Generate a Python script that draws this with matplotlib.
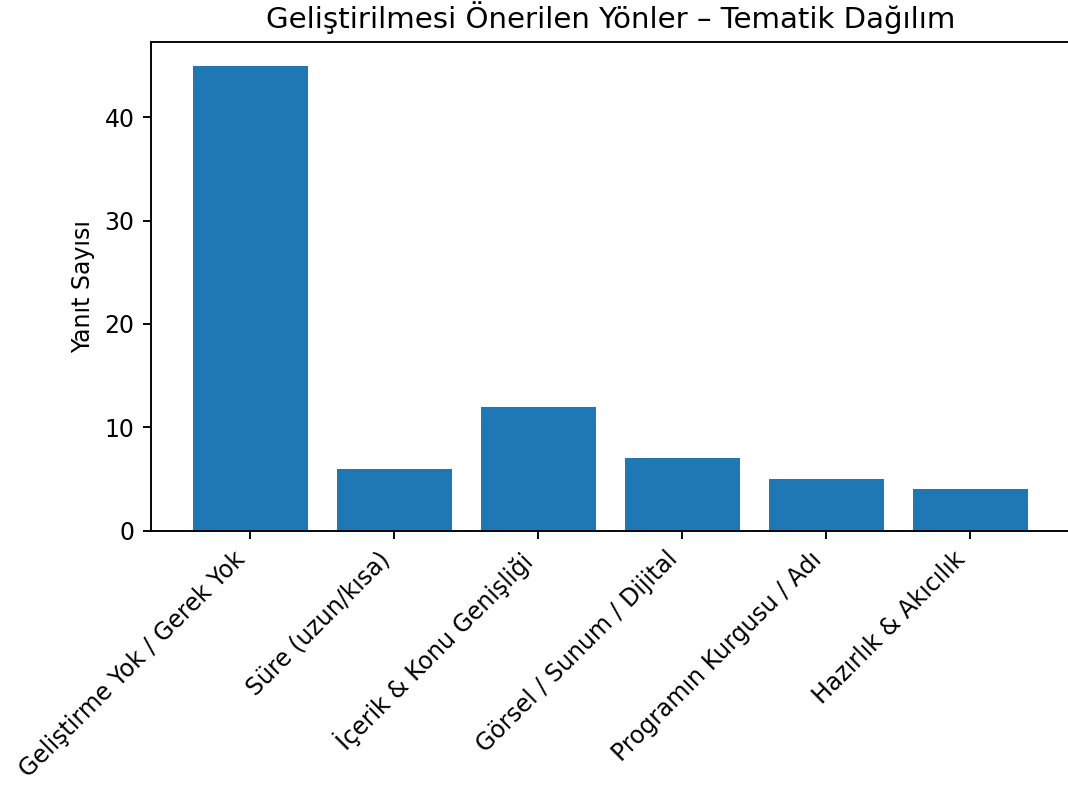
import matplotlib
matplotlib.use("Agg")
import matplotlib.pyplot as plt

# Data
categories = ["Geliştirme Yok / Gerek Yok", "Süre (uzun/kısa)", "İçerik & Konu Genişliği",
              "Görsel / Sunum / Dijital", "Programın Kurgusu / Adı", "Hazırlık & Akıcılık"]
counts = [45, 6, 12, 7, 5, 4]

# render at high dpi with default font sizes, like a scaled-up default chart
DPI = 170
W, H = 1068, 789
fig = plt.figure(figsize=(W / DPI, H / DPI), dpi=DPI)
left, right, top, bottom = 151, 1069.5, 42.5, 530.5
ax = fig.add_axes([left / W, 1 - bottom / H, (right - left) / W, (bottom - top) / H])

ax.bar(categories, counts)
ax.set_title("Geliştirilmesi Önerilen Yönler – Tematik Dağılım", fontsize=12.4)
ax.set_ylabel("Yanıt Sayısı")
plt.setp(ax.get_xticklabels(), rotation=45, ha="right")

fig.savefig("out.png", dpi=DPI)
